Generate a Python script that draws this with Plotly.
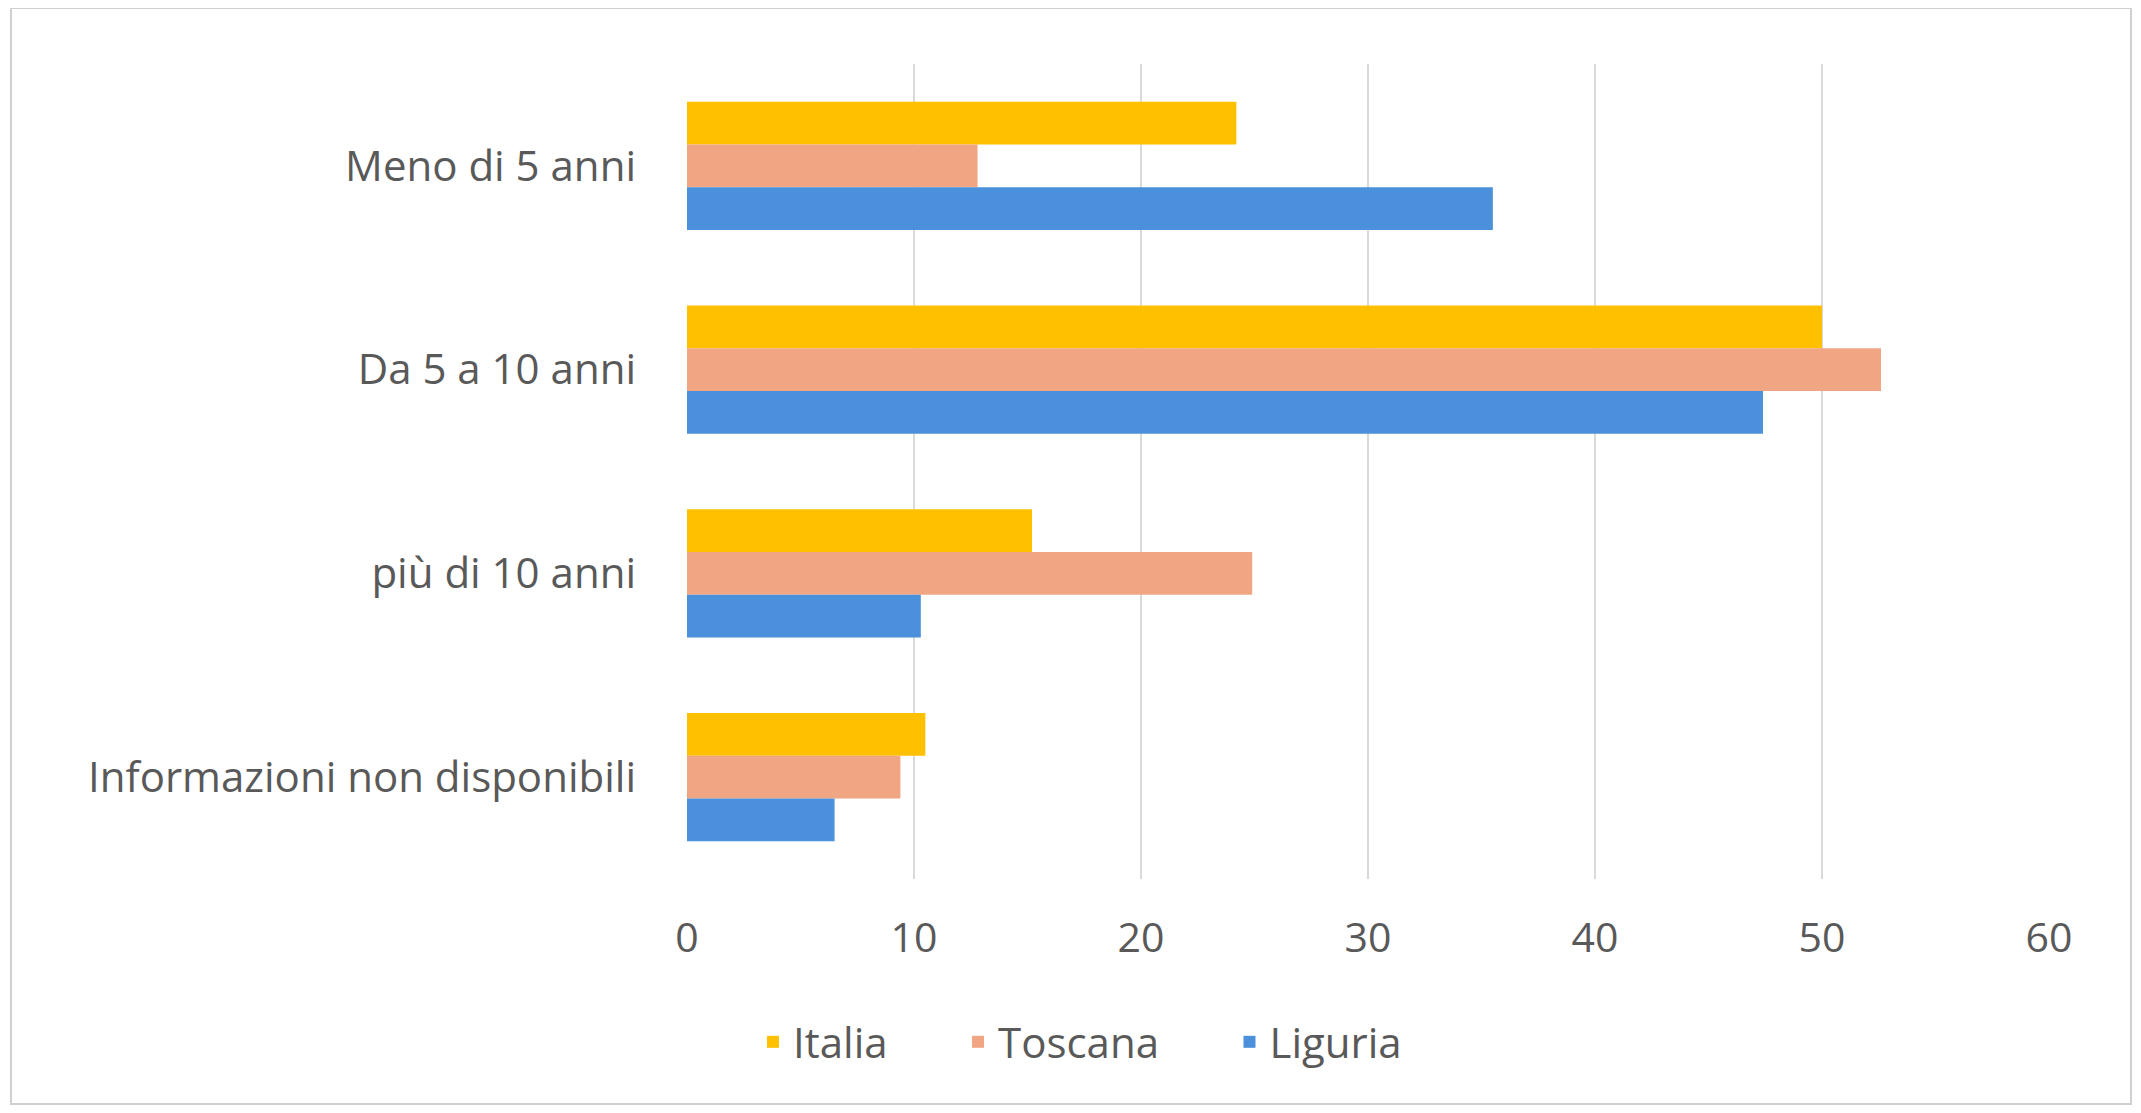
import plotly.graph_objects as go

categories = ["Meno di 5 anni", "Da 5 a 10 anni", "più di 10 anni", "Informazioni non disponibili"]
italia = [24.2, 50.0, 15.2, 10.5]
toscana = [12.8, 52.6, 24.9, 9.4]
liguria = [35.5, 47.4, 10.3, 6.5]
series_names = ["Italia", "Toscana", "Liguria"]
colors = ["#FFC000", "#F1A683", "#4A90DA"]
x_ticks = [0, 10, 20, 30, 40, 50, 60]

# page body has an 8px margin: figure coordinates = page coordinates - 8
OFF = 8
W, H = 2141, 1113
L, R, T, B = 687 - OFF, 92 + OFF, 64 - OFF, 234 + OFF

NB = "\u00a0"
legend_labels = [n + NB * 6 if i < len(series_names) - 1 else n for i, n in enumerate(series_names)]

fig = go.Figure()
for name, lab, vals, c in zip(series_names, legend_labels, [italia, toscana, liguria], colors):
    fig.add_trace(go.Bar(y=categories, x=vals, name=lab, orientation="h",
                         hovertemplate=name + ": %{x}<extra></extra>",
                         marker=dict(color=c, line=dict(width=0))))

pw = W - L - R
ph = H - T - B
def px(x):
    return (x - OFF - L) / pw
def py(y):
    return (H - B - (y - OFF)) / ph

FONT = "Open Sans"
FS = 42
fig.update_layout(
    width=W, height=H,
    margin=dict(l=L, r=R, t=T, b=B, autoexpand=False),
    paper_bgcolor="white", plot_bgcolor="white",
    barmode="group", bargap=0.37, bargroupgap=0,
    font=dict(family=FONT, color="#595959", size=FS),
    xaxis=dict(range=[0, 60], tickvals=x_ticks, showgrid=True, gridcolor="#D9D9D9",
               gridwidth=1.5, zeroline=False, showline=False, ticks="",
               ticklabelstandoff=31, tickfont=dict(family=FONT, size=41, color="#595959")),
    yaxis=dict(autorange="reversed", showgrid=False, zeroline=False, showline=False,
               ticks="", ticklabelstandoff=50, tickfont=dict(family=FONT, size=FS, color="#595959")),
    legend=dict(orientation="h", xref="container", yref="container",
                x=(765 - 20) / W, y=1 - (1042 - OFF) / H,
                xanchor="left", yanchor="middle", font=dict(family=FONT, size=FS, color="#595959"),
                itemwidth=30, traceorder="normal"),
    showlegend=True,
    shapes=[dict(type="rect", xref="paper", yref="paper",
                 x0=px(11), x1=px(2131), y0=py(1104), y1=py(8),
                 line=dict(color="#D0D0D0", width=2), fillcolor="rgba(0,0,0,0)", layer="below")],
)

fig.write_html("out.html")
